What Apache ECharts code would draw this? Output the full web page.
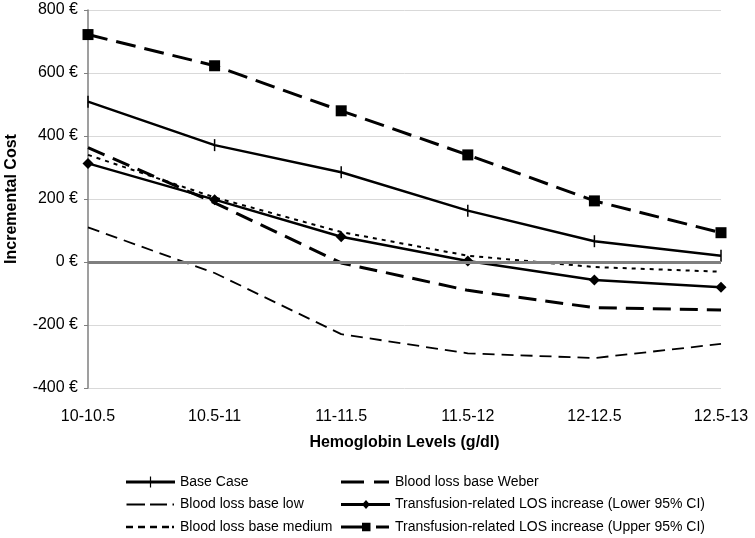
<!DOCTYPE html>
<html>
<head>
<meta charset="utf-8">
<script src="https://cdn.jsdelivr.net/npm/echarts@6/dist/echarts.min.js"></script>
<style>
html,body{margin:0;padding:0;background:#fff;}
#chart{width:755px;height:538px;}
</style>
</head>
<body>
<div id="chart"></div>
<script>
var categories = ['10-10.5', '10.5-11', '11-11.5', '11.5-12', '12-12.5', '12.5-13'];
var baseCase = [509, 371, 285, 163, 66, 20];
var bloodLossWeber = [363, 188, -3, -90, -145, -152];
var bloodLossLow = [110, -35, -229, -290, -305, -260];
var lowerCI = [313, 198, 80, 3, -57, -80];
var bloodLossMedium = [340, 205, 95, 20, -16, -31];
var upperCI = [722, 623, 480, 340, 194, 93];
var yTicks = [-400, -200, 0, 200, 400, 600, 800];

var FONT = '"Liberation Sans", Arial, sans-serif';
var chart = echarts.init(document.getElementById('chart'), null, {renderer: 'canvas'});

function lineSeries(name, data, width, type, symbol, symbolSize) {
  return {
    name: name,
    type: 'line',
    data: data,
    z: 3,
    symbol: symbol || 'none',
    symbolSize: symbolSize || 0,
    showSymbol: !!symbol,
    itemStyle: {color: '#000', borderWidth: 0},
    lineStyle: {color: '#000', width: width, type: type},
    emphasis: {disabled: true},
    animation: false
  };
}

// legend icons drawn in a 49 x 14 box (tiny corner points keep the box size)
var BOX = 'M0,0L0.01,0L0.01,0.01Z M48.99,13.99L49,13.99L49,14Z ';
var icons = {
  base: 'path://' + BOX + 'M0,5.6H49V8.4H0Z M23.9,1.5H25.1V12.5H23.9Z',
  low: 'path://' + BOX + 'M0.5,6.1H19V7.9H0.5Z M24,6.1H41V7.9H24Z M46.5,6.1H48V7.9H46.5Z',
  medium: 'path://' + BOX + 'M0,5.8H7V8.2H0Z M12,5.8H19V8.2H12Z M24,5.8H31V8.2H24Z M36,5.8H43V8.2H36Z M46,5.8H48V8.2H46Z',
  weber: 'path://' + BOX + 'M0,5.4H23V8.6H0Z M33,5.4H48V8.6H33Z',
  lower: 'path://' + BOX + 'M0,5.6H49V8.4H0Z M25,2.5L29,7L25,11.5L21,7Z',
  upper: 'path://' + BOX + 'M0,5.4H21V8.6H0Z M21,2.8H29.5V11.2H21Z M35,5.4H48V8.6H35Z'
};

var legendText = {fontFamily: FONT, fontSize: 14, lineHeight: 14, color: '#000'};

chart.setOption({
  animation: false,
  backgroundColor: '#fff',
  grid: {left: 88, right: 34, top: 10, bottom: 150, containLabel: false, outerBoundsMode: 'none'},
  xAxis: {
    type: 'category',
    data: categories,
    boundaryGap: false,
    name: 'Hemoglobin Levels (g/dl)',
    nameLocation: 'middle',
    nameGap: 47,
    nameTextStyle: {fontFamily: FONT, fontSize: 16, fontWeight: 'bold', color: '#000'},
    axisLine: {show: false},
    axisTick: {show: false},
    axisLabel: {fontFamily: FONT, fontSize: 16, color: '#000', margin: 21},
    splitLine: {show: false}
  },
  yAxis: {
    type: 'value',
    min: yTicks[0],
    max: yTicks[yTicks.length - 1],
    interval: 200,
    name: 'Incremental Cost',
    nameLocation: 'middle',
    nameGap: 68,
    nameTextStyle: {fontFamily: FONT, fontSize: 16, fontWeight: 'bold', color: '#000'},
    axisLine: {show: true, lineStyle: {color: '#7f7f7f', width: 1.5}},
    axisTick: {show: true, length: 4, lineStyle: {color: '#7f7f7f', width: 1}},
    axisLabel: {fontFamily: FONT, fontSize: 16, color: '#000', margin: 10,
      formatter: function (v) { return v + ' €'; }},
    splitLine: {show: true, lineStyle: {color: '#d9d9d9', width: 1}}
  },
  legend: [
    {
      orient: 'vertical', left: 126, top: 475, height: 63, padding: 0,
      itemWidth: 49, itemHeight: 14, itemGap: 8.5,
      textStyle: legendText, selectedMode: false,
      data: [
        {name: 'Base Case', icon: icons.base},
        {name: 'Blood loss base low', icon: icons.low},
        {name: 'Blood loss base medium', icon: icons.medium}
      ]
    },
    {
      orient: 'vertical', left: 341, top: 475, height: 63, padding: 0,
      itemWidth: 49, itemHeight: 14, itemGap: 8.5,
      textStyle: legendText, selectedMode: false,
      data: [
        {name: 'Blood loss base Weber', icon: icons.weber},
        {name: 'Transfusion-related LOS increase (Lower 95% CI)', icon: icons.lower},
        {name: 'Transfusion-related LOS increase (Upper 95% CI)', icon: icons.upper}
      ]
    }
  ],
  series: [
    {
      name: 'zero', type: 'line', data: [], z: 1, silent: true,
      markLine: {
        silent: true, symbol: 'none', animation: false,
        label: {show: false},
        lineStyle: {color: '#7f7f7f', width: 3, type: 'solid'},
        data: [{yAxis: 0}]
      }
    },
    lineSeries('Base Case', baseCase, 2.5, 'solid', 'rect', [1.5, 12]),
    lineSeries('Blood loss base Weber', bloodLossWeber, 3, [18, 9]),
    lineSeries('Blood loss base low', bloodLossLow, 1.8, [12, 7]),
    lineSeries('Transfusion-related LOS increase (Lower 95% CI)', lowerCI, 2.5, 'solid', 'diamond', 11),
    lineSeries('Blood loss base medium', bloodLossMedium, 2, [4, 5]),
    lineSeries('Transfusion-related LOS increase (Upper 95% CI)', upperCI, 3, [20, 9], 'rect', 11)
  ]
});
</script>
</body>
</html>
